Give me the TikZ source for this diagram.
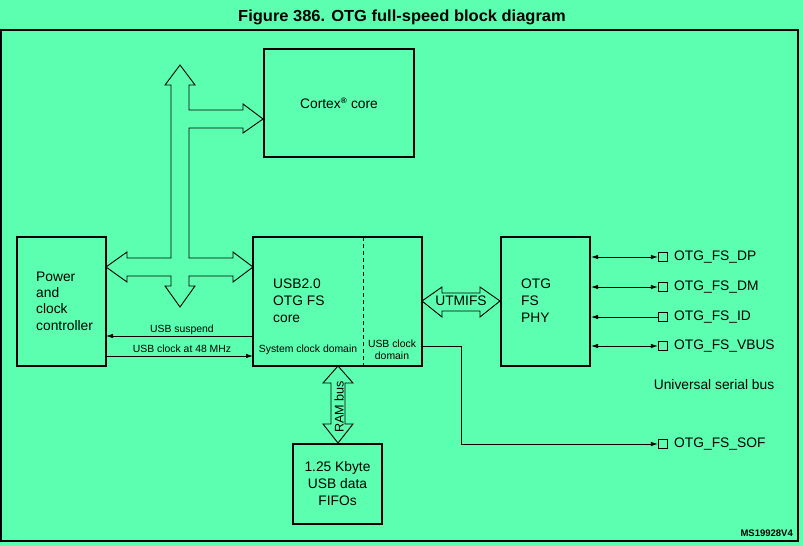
\documentclass[tikz,border=0pt]{standalone}
\usepackage{fontspec}
\setmainfont{Liberation Sans}
\usetikzlibrary{arrows.meta}
\definecolor{bg}{RGB}{92,255,176}
\tikzset{
  box/.style={draw=black, line width=1.4pt},
  blockarrow/.style={draw=black, line width=0.9pt, fill=bg, line join=miter},
  wire/.style={draw=black, line width=0.8pt},
  tip/.style={-{Latex[length=7pt,width=4.5pt]}},
  both/.style={{Latex[length=7pt,width=4.5pt]}-{Latex[length=7pt,width=4.5pt]}},
  pin/.style={draw=black, line width=1.3pt, minimum size=9pt, inner sep=0pt, fill=bg},
  lbl/.style={font=\fontsize{13.8}{17}\selectfont, inner sep=0pt},
  small/.style={font=\fontsize{10.4}{12}\selectfont, inner sep=0pt},
}
\begin{document}
\begin{tikzpicture}[x=1pt,y=-1pt]
\fill[bg] (0,0) rectangle (803,546);
\useasboundingbox (0,0) rectangle (803,546);
% title
\node[inner sep=0pt, font=\bfseries\fontsize{16}{18}\selectfont] (title) at (402,17) {\scalebox{1.03}[1]{Figure 386. OTG full-speed block diagram}};
% frame
\draw[line width=1.2pt] (1,30) rectangle (798,541);
% boxes
\node[box, minimum width=150pt, minimum height=108pt] (cortex) at (339,103) {};
\node[lbl] (cortext) at (cortex.center) {Cortex\textsuperscript{\fontsize{8}{8}\selectfont\bfseries ®} core};
\node[box, minimum width=89pt, minimum height=129pt] (power) at (61.5,301.5) {};
\node[lbl, align=left, anchor=west, font=\fontsize{13.8}{16.3}\selectfont] (powertext) at (36,301) {Power\\and\\clock\\controller};
\node[box, minimum width=169pt, minimum height=129pt] (core) at (337.5,301.5) {};
\node[lbl, align=left, anchor=west] (coretext) at (273,301) {USB2.0\\OTG FS\\core};
\draw[line width=0.8pt, dash pattern=on 4pt off 3pt] (363,237) coordinate (dtop) -- (363,366) coordinate (dbot);
\node[small] (sysclk) at (308,350) {System clock domain};
\node[small, align=center, font=\fontsize{10.4}{12}\selectfont] (usbclk) at (392,350) {USB clock\\domain};
\node[box, minimum width=89pt, minimum height=129pt] (phy) at (545.5,301.5) {};
\node[lbl, align=left, anchor=west] (phytext) at (521,301) {OTG\\FS\\PHY};
\node[box, minimum width=89pt, minimum height=80pt] (fifo) at (337.5,484) {};
\node[lbl, align=center] (fifotext) at (fifo.center) {1.25 Kbyte\\USB data\\FIFOs};
% system bus cross arrow
\draw[blockarrow] (180,65) -- (195,85) -- (189,85) -- (189,110) -- (243,110) -- (243,104) -- (263,119) -- (243,133) -- (243,128) -- (189,128) -- (189,258) -- (233,258) -- (233,252) -- (253,267) -- (233,282) -- (233,276) -- (189,276) -- (189,286) -- (195,286) -- (180,307) -- (165,286) -- (171,286) -- (171,276) -- (127,276) -- (127,282) -- (106,267) -- (127,252) -- (127,258) -- (171,258) -- (171,85) -- (165,85) -- cycle;
% UTMIFS arrow
\draw[blockarrow] (422,301) -- (442,287) -- (442,293) -- (480,293) -- (480,287) -- (500,301) -- (480,317) -- (480,311) -- (442,311) -- (442,317) -- cycle;
\node[lbl] (utmi) at (461,301) {UTMIFS};
% RAM bus arrow
\draw[blockarrow] (338,366) -- (353,383) -- (345,383) -- (345,424) -- (353,424) -- (338,443) -- (323,424) -- (331,424) -- (331,383) -- (323,383) -- cycle;
\node[lbl, rotate=90, font=\fontsize{12.6}{14}\selectfont] (ram) at (339,407) {RAM bus};
% power/clock signals
\coordinate (susS) at (253,336);
\coordinate (susE) at (106,336);
\draw[wire, tip] (susS) -- (susE);
\node[small, anchor=base] (suslbl) at (182,332) {USB suspend};
\coordinate (clkS) at (106,356);
\coordinate (clkE) at (253,356);
\draw[wire, tip] (clkS) -- (clkE);
\node[small, anchor=base] (clklbl) at (182,352) {USB clock at 48 MHz};
% pins
\foreach \n/\y/\t in {dp/257/OTG\_FS\_DP, dm/287/OTG\_FS\_DM, id/317/OTG\_FS\_ID, vbus/346/OTG\_FS\_VBUS, sof/444/OTG\_FS\_SOF} {
  \node[pin] (p\n) at (663,\y) {};
  \node[lbl, anchor=west] (t\n) at (674,\y) {\t};
}
\draw[wire, both] (591,257) -- (pdp.west);
\draw[wire, both] (591,287) -- (pdm.west);
\draw[wire, {Latex[length=7pt,width=4.5pt]}-] (591,317) -- (pid.west);
\draw[wire, both] (591,346) -- (pvbus.west);
\coordinate (sofS) at (422,346);
\draw[wire, tip] (sofS) -- (461,346) -- (461,444) -- (psof.west);
\node[lbl] (usb) at (714,385) {Universal serial bus};
\node[inner sep=0pt, anchor=east, font=\bfseries\fontsize{9.5}{10}\selectfont] (ms) at (793,533) {MS19928V4};
\end{tikzpicture}
\end{document}
